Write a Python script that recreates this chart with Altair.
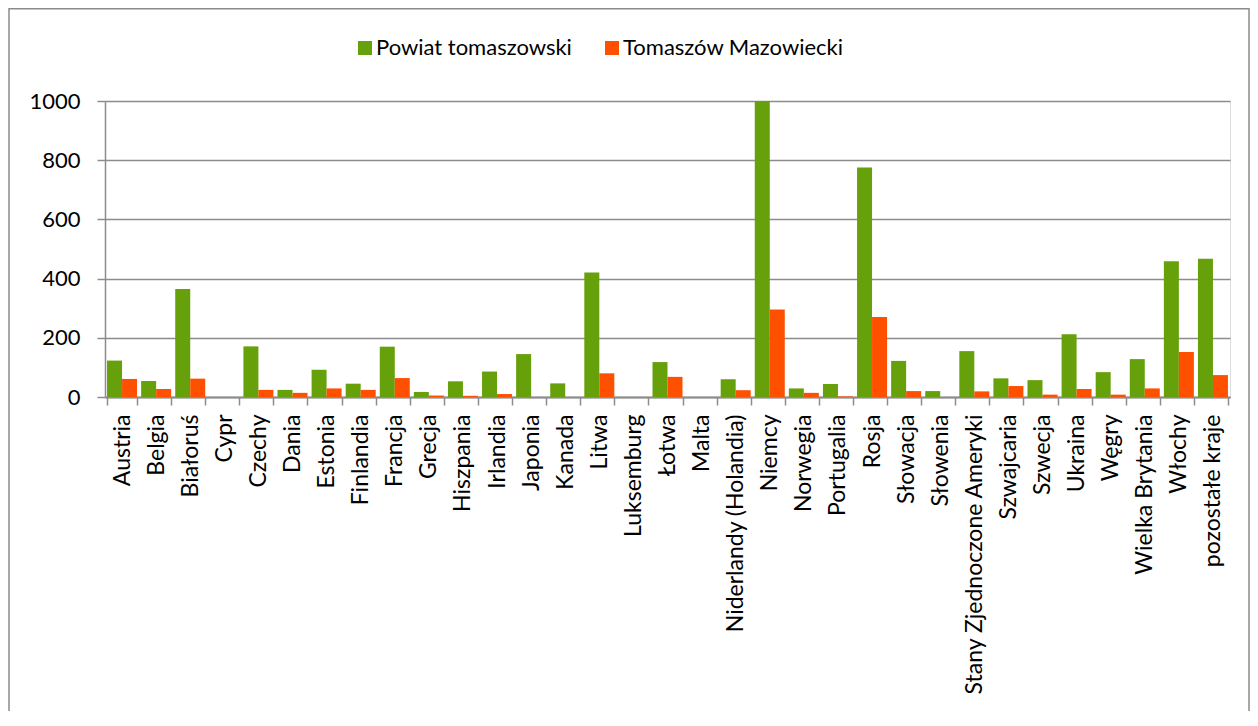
import altair as alt
import pandas as pd

countries = ["Austria", "Belgia", "Białoruś", "Cypr", "Czechy", "Dania", "Estonia",
             "Finlandia", "Francja", "Grecja", "Hiszpania", "Irlandia", "Japonia",
             "Kanada", "Litwa", "Luksemburg", "Łotwa", "Malta", "Niderlandy (Holandia)",
             "Niemcy", "Norwegia", "Portugalia", "Rosja", "Słowacja", "Słowenia",
             "Stany Zjednoczone Ameryki", "Szwajcaria", "Szwecja", "Ukraina", "Węgry",
             "Wielka Brytania", "Włochy", "pozostałe kraje"]
series = ["Powiat tomaszowski", "Tomaszów Mazowiecki"]
powiat = [123, 54, 365, 0, 171, 24, 92, 45, 170, 17, 53, 86, 145, 46, 421, 0, 118, 0,
          60, 1000, 29, 44, 775, 122, 20, 155, 63, 57, 212, 84, 128, 459, 467]
tomaszow = [61, 27, 62, 0, 24, 14, 29, 24, 64, 5, 4, 10, 0, 0, 80, 0, 68, 0,
            23, 296, 14, 2, 270, 20, 0, 19, 37, 8, 27, 8, 29, 152, 74]
y_ticks = [0, 200, 400, 600, 800, 1000]
colors = ["#66a00a", "#ff5000"]

rows = []
for i, c in enumerate(countries):
    rows.append({"kraj": c, "seria": series[0], "wartosc": powiat[i]})
    rows.append({"kraj": c, "seria": series[1], "wartosc": tomaszow[i]})
df = pd.DataFrame(rows)

FONT = "Lato"
GRAY = "#8c8c8c"

bars = alt.Chart(df).mark_bar().encode(
    x=alt.X("kraj:N", sort=countries,
            scale=alt.Scale(paddingInner=0.12, paddingOuter=0.06),
            axis=alt.Axis(title=None, labelAngle=-90, tickBand="extent",
                          labelFont=FONT, labelFontSize=23, labelColor="black",
                          labelPadding=9, tickSize=8, tickColor=GRAY, tickWidth=1.5,
                          domainColor=GRAY, domainWidth=2, grid=False,
                          labelLimit=400)),
    xOffset=alt.XOffset("seria:N", sort=series, scale=alt.Scale(paddingInner=0, paddingOuter=0)),
    y=alt.Y("wartosc:Q", scale=alt.Scale(domain=[0, 1000], nice=False),
            axis=alt.Axis(title=None, values=y_ticks, format="d", grid=True, gridColor=GRAY,
                          gridWidth=1.5, labelFont=FONT, labelFontSize=22,
                          labelColor="black", labelPadding=17, tickSize=8,
                          tickColor=GRAY, tickWidth=1.5, domainColor=GRAY,
                          domainWidth=1.5)),
    color=alt.Color("seria:N", sort=series,
                    scale=alt.Scale(domain=series, range=colors),
                    legend=alt.Legend(title=None, orient="none", direction="horizontal",
                                      legendX=249, legendY=-64, symbolType="square",
                                      symbolSize=196, symbolStrokeWidth=0,
                                      labelFont=FONT, labelFontSize=22, labelColor="black",
                                      labelOffset=0, columnPadding=29, padding=0,
                                      labelLimit=400)),
)

frame = alt.Chart(alt.Data(values=[{}])).mark_rect(
    fill="transparent", stroke=GRAY, strokeWidth=1.5, clip=False
).encode(
    x=alt.value(-96), x2=alt.value(1144), y=alt.value(-92.25), y2=alt.value(800)
)

chart = alt.layer(frame, bars).properties(
    width=1125, height=296,
    autosize=alt.AutoSizeParams(type="none"),
    padding={"left": 97, "top": 93, "right": 20, "bottom": 314},
).configure_view(stroke=None).configure(background="white")

chart.save("out.html", embed_options={"renderer": "svg", "actions": False})
